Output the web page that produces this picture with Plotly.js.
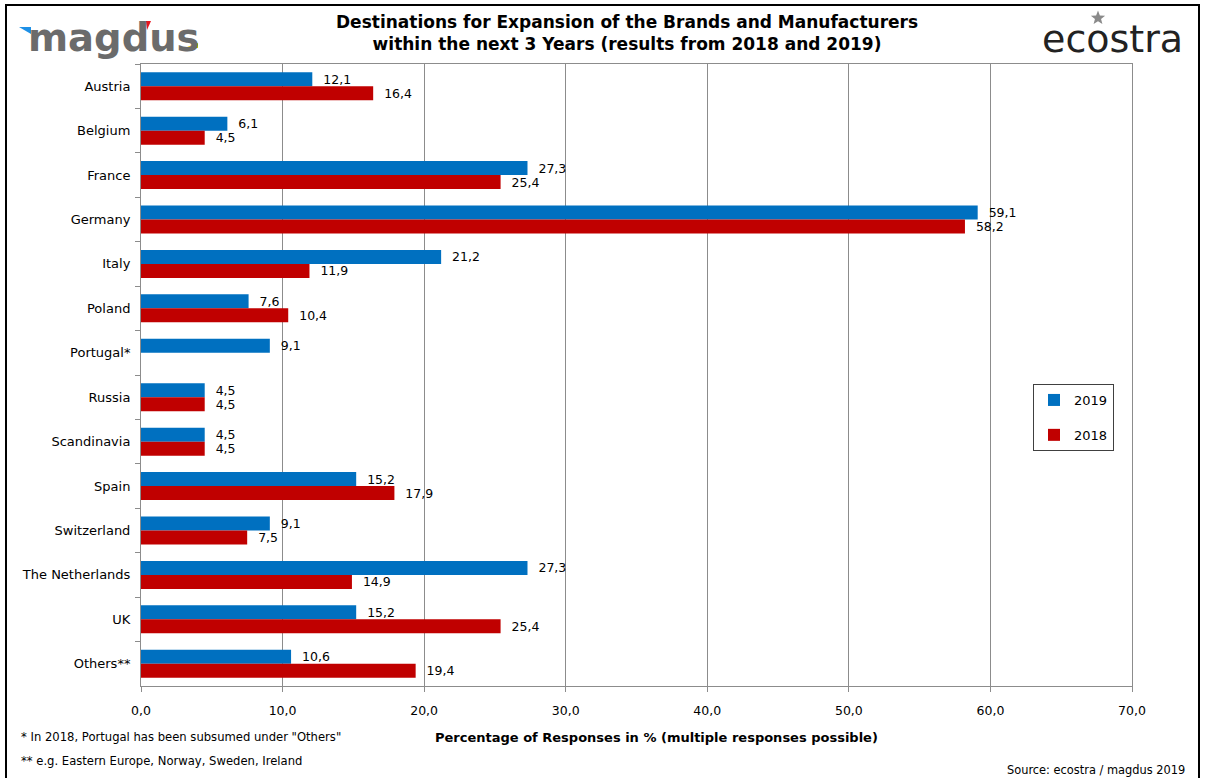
<!DOCTYPE html>
<html>
<head>
<meta charset="utf-8">
<script src="https://cdn.plot.ly/plotly-3.0.1.min.js"></script>
<style>html,body{margin:0;padding:0;background:#fff;}#chart{width:1205px;height:778px;}</style>
</head>
<body>
<div id="chart"></div>
<script>
const categories = ["Austria","Belgium","France","Germany","Italy","Poland","Portugal*","Russia","Scandinavia","Spain","Switzerland","The Netherlands","UK","Others**"];
const values2019 = [12.1, 6.1, 27.3, 59.1, 21.2, 7.6, 9.1, 4.5, 4.5, 15.2, 9.1, 27.3, 15.2, 10.6];
const values2018 = [16.4, 4.5, 25.4, 58.2, 11.9, 10.4, null, 4.5, 4.5, 17.9, 7.5, 14.9, 25.4, 19.4];
const seriesNames = ["2019", "2018"];
const xTicks = [0, 10, 20, 30, 40, 50, 60, 70];

const W = 1205, H = 778;
const L = 141, R = 1132, T = 64, B = 686;
const px = x => (x - L) / (R - L);
const py = y => (B - y) / (B - T);
const FONT = "DejaVu Sans, Verdana, sans-serif";

const traces = [
  {name: seriesNames[0], values: values2019, color: "#0070C0"},
  {name: seriesNames[1], values: values2018, color: "#C00000"}
].map((s, i) => ({
  type: "bar",
  orientation: "h",
  name: s.name,
  y: categories,
  x: s.values,
  marker: {color: s.color, line: {width: 0}},
  text: s.values.map(v => v === null ? "" : "  " + v.toFixed(1).replace(".", ",")),
  texttemplate: "%{text}",
  textposition: "outside",
  constraintext: "none",
  cliponaxis: false,
  textfont: {family: FONT, size: 12.5, color: "#000"},
  legendgroup: "g" + i,
  hoverinfo: "x+y"
}));

// five-point star path (in pixels -> paper)
function starPath(cx, cy, ro, ri) {
  let d = "";
  for (let k = 0; k < 10; k++) {
    const r = k % 2 === 0 ? ro : ri;
    const a = -Math.PI / 2 + k * Math.PI / 5;
    const x = cx + r * Math.cos(a), y = cy + r * Math.sin(a);
    d += (k === 0 ? "M " : " L ") + px(x) + " " + py(y);
  }
  return d + " Z";
}

const layout = {
  width: W, height: H,
  margin: {l: L, r: W - R, t: T, b: H - B, pad: 0},
  paper_bgcolor: "#fff",
  plot_bgcolor: "#fff",
  separators: ",.",
  barmode: "group",
  bargap: 0.37,
  bargroupgap: 0,
  font: {family: FONT, size: 13, color: "#000"},
  showlegend: true,
  legend: {
    x: px(1033), y: py(384), xanchor: "left", yanchor: "top",
    bordercolor: "#404040", borderwidth: 1, bgcolor: "#fff",
    font: {family: FONT, size: 13, color: "#000"},
    traceorder: "grouped", tracegroupgap: 15,
    itemwidth: 30
  },
  xaxis: {
    range: [0, 70],
    tickvals: xTicks,
    ticktext: xTicks.map(v => v.toFixed(1).replace(".", ",")),
    showgrid: true, gridcolor: "#8c8c8c", gridwidth: 1,
    showline: true, linecolor: "#8c8c8c", linewidth: 1, mirror: true,
    ticks: "outside", ticklen: 5, tickcolor: "#8c8c8c",
    tickfont: {family: FONT, size: 12.5, color: "#000"},
    ticklabelstandoff: 8,
    zeroline: false, fixedrange: true
  },
  yaxis: {
    type: "category",
    autorange: "reversed",
    showline: true, linecolor: "#8c8c8c", linewidth: 1, mirror: true,
    ticks: "outside", ticklen: 5, tickcolor: "#8c8c8c", tickson: "boundaries",
    tickfont: {family: FONT, size: 13, color: "#000"},
    ticklabelstandoff: 7,
    showgrid: false, zeroline: false, fixedrange: true
  },
  annotations: [
    {xref: "paper", yref: "paper", x: px(627), y: py(33), xanchor: "center", yanchor: "middle",
     text: "<b>Destinations for Expansion of the Brands and Manufacturers<br>within the next 3 Years (results from 2018 and 2019)</b>",
     showarrow: false, align: "center", font: {family: FONT, size: 17, color: "#000"}},
    {xref: "paper", yref: "paper", x: px(656), y: py(737), xanchor: "center", yanchor: "middle",
     text: "<b>Percentage of Responses in % (multiple responses possible)</b>",
     showarrow: false, font: {family: FONT, size: 13, color: "#000"}},
    {xref: "paper", yref: "paper", x: px(19), y: py(737), xanchor: "left", yanchor: "middle",
     text: "* In 2018, Portugal has been subsumed under \"Others\"",
     showarrow: false, font: {family: FONT, size: 11.6, color: "#000"}},
    {xref: "paper", yref: "paper", x: px(19), y: py(761), xanchor: "left", yanchor: "middle",
     text: "** e.g. Eastern Europe, Norway, Sweden, Ireland",
     showarrow: false, font: {family: FONT, size: 11.6, color: "#000"}},
    {xref: "paper", yref: "paper", x: px(1187), y: py(770), xanchor: "right", yanchor: "middle",
     text: "Source: ecostra / magdus 2019",
     showarrow: false, font: {family: FONT, size: 11.4, color: "#000"}},
    {xref: "paper", yref: "paper", x: px(26), y: py(37), xanchor: "left", yanchor: "middle",
     text: "<b>magdus</b>",
     showarrow: false, font: {family: FONT, size: 38.5, color: "#6b6b6b"}},
    {xref: "paper", yref: "paper", x: px(1185), y: py(39), xanchor: "right", yanchor: "middle",
     text: "ecostra",
     showarrow: false, font: {family: FONT, size: 38, color: "#222222"}}
  ],
  shapes: [
    {type: "rect", xref: "paper", yref: "paper", x0: px(6), x1: px(1199), y0: py(790), y1: py(5),
     line: {color: "#000", width: 2}, fillcolor: "rgba(0,0,0,0)", layer: "below"},
    {type: "path", xref: "paper", yref: "paper", path: starPath(1098, 18, 7.5, 3.2),
     fillcolor: "#8a8a8a", line: {width: 0}},
    {type: "path", xref: "paper", yref: "paper",
     path: `M ${px(19)} ${py(27)} L ${px(31)} ${py(27)} L ${px(31)} ${py(34)} Z`,
     fillcolor: "#1E90E6", line: {width: 0}},
    {type: "path", xref: "paper", yref: "paper",
     path: `M ${px(146)} ${py(21)} L ${px(151)} ${py(21)} L ${px(147)} ${py(30)} Z`,
     fillcolor: "#E8141E", line: {width: 0}},
    {type: "path", xref: "paper", yref: "paper",
     path: `M ${px(187)} ${py(47)} L ${px(198)} ${py(43)} L ${px(198)} ${py(48)} L ${px(187)} ${py(48)} Z`,
     fillcolor: "#F5D200", line: {width: 0}}
  ]
};

Plotly.newPlot("chart", traces, layout, {displayModeBar: false, staticPlot: true});
</script>
</body>
</html>
